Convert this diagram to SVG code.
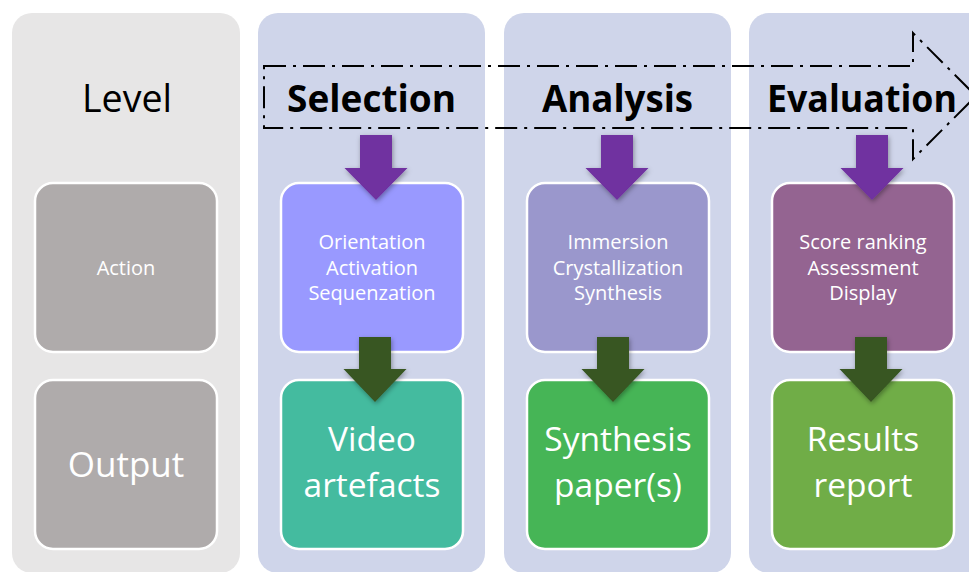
<svg xmlns="http://www.w3.org/2000/svg" width="969" height="572" viewBox="0 0 969 572">
<defs>
<style>
.col{fill:#cfd5ea}
.box{stroke:#ffffff;stroke-width:2.5}
.hdr{font-family:"Open Sans","Liberation Sans",sans-serif;font-weight:bold;font-size:38px;fill:#000000}
.lvl{font-family:"Open Sans","Liberation Sans",sans-serif;font-size:39px;fill:#000000}
.sm{font-family:"Open Sans","Liberation Sans",sans-serif;font-size:20px;fill:#ffffff;text-anchor:middle}
.big{font-family:"Open Sans","Liberation Sans",sans-serif;font-size:33.5px;fill:#ffffff;text-anchor:middle}
.pa{fill:#7030a0;filter:url(#sh)}
.ga{fill:#375623;filter:url(#sh)}
.flow{fill:none;stroke:#000000;stroke-width:2;stroke-dasharray:22 7 3 7}
</style>
<filter id="sh" x="-30%" y="-30%" width="160%" height="160%">
<feDropShadow dx="1" dy="2" stdDeviation="2.5" flood-color="#000000" flood-opacity="0.35"/>
</filter>
</defs>
<rect width="969" height="572" fill="#ffffff"/>

<g id="col-level">
<rect x="12" y="13" width="228" height="560" rx="20" fill="#e7e6e6"/>
<text class="lvl" x="82" y="112" textLength="90" lengthAdjust="spacingAndGlyphs">Level</text>
</g>
<g id="col-selection">
<rect class="col" x="258" y="13" width="227" height="560" rx="20"/>
</g>
<g id="col-analysis">
<rect class="col" x="504" y="13" width="227" height="560" rx="20"/>
</g>
<g id="col-evaluation">
<rect class="col" x="749" y="13" width="240" height="560" rx="20"/>
</g>

<g id="level-action">
<rect class="box" x="35" y="183" width="182" height="169" rx="18" fill="#afabab"/>
<text class="sm" x="126" y="275">Action</text>
</g>
<g id="level-output">
<rect class="box" x="35" y="380" width="182" height="169" rx="18" fill="#afabab"/>
<text class="big" x="126" y="477" style="font-size:35px">Output</text>
</g>

<g id="selection-action">
<rect class="box" x="281" y="183" width="182" height="169" rx="18" fill="#9999ff"/>
<text class="sm" x="372" y="249">Orientation<tspan x="372" dy="26">Activation</tspan><tspan x="372" dy="25">Sequenzation</tspan></text>
</g>
<g id="selection-output">
<rect class="box" x="281" y="380" width="182" height="169" rx="18" fill="#44bb9f"/>
<text class="big" x="372" y="451">Video<tspan x="372" dy="46">artefacts</tspan></text>
</g>

<g id="analysis-action">
<rect class="box" x="527" y="183" width="182" height="169" rx="18" fill="#9a97cc"/>
<text class="sm" x="618" y="249">Immersion<tspan x="618" dy="26">Crystallization</tspan><tspan x="618" dy="25">Synthesis</tspan></text>
</g>
<g id="analysis-output">
<rect class="box" x="527" y="380" width="182" height="169" rx="18" fill="#46b556"/>
<text class="big" x="618" y="451">Synthesis<tspan x="618" dy="46">paper(s)</tspan></text>
</g>

<g id="evaluation-action">
<rect class="box" x="772" y="183" width="182" height="169" rx="18" fill="#946491"/>
<text class="sm" x="863" y="249">Score ranking<tspan x="863" dy="26">Assessment</tspan><tspan x="863" dy="25">Display</tspan></text>
</g>
<g id="evaluation-output">
<rect class="box" x="772" y="380" width="182" height="169" rx="18" fill="#70ad47"/>
<text class="big" x="863" y="451">Results<tspan x="863" dy="46">report</tspan></text>
</g>

<g id="connectors">
<path class="flow" d="M264,66 H913 V33 L976,96 L913,159 V128 H264 Z"/>
<path class="pa" d="M360,135 H392 V168 H407.5 L376,200 L344.5,168 H360 Z"/>
<path class="pa" d="M601,135 H633 V168 H648.5 L617,200 L585.5,168 H601 Z"/>
<path class="pa" d="M856,135 H888 V168 H903.5 L872,200 L840.5,168 H856 Z"/>
<path class="ga" d="M359,337 H391 V369 H406.5 L375,402 L343.5,369 H359 Z"/>
<path class="ga" d="M597,337 H629 V369 H644.5 L613,402 L581.5,369 H597 Z"/>
<path class="ga" d="M855,337 H887 V369 H902.5 L871,402 L839.5,369 H855 Z"/>
</g>

<g id="stage-labels">
<text class="hdr" x="287" y="112" textLength="169" lengthAdjust="spacingAndGlyphs">Selection</text>
<text class="hdr" x="542" y="112" textLength="151" lengthAdjust="spacingAndGlyphs">Analysis</text>
<text class="hdr" x="767" y="112" textLength="190" lengthAdjust="spacingAndGlyphs">Evaluation</text>
</g>
</svg>
